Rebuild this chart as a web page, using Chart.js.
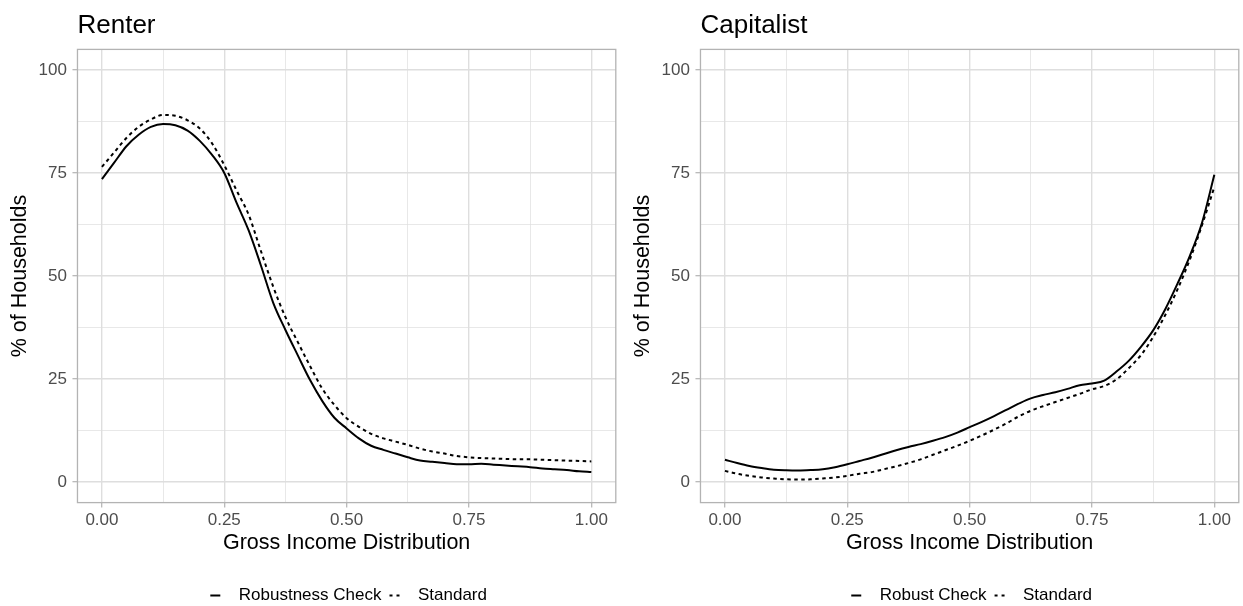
<!DOCTYPE html>
<html>
<head>
<meta charset="utf-8">
<title>Renter / Capitalist</title>
<script src="https://cdn.jsdelivr.net/npm/chart.js@4.4.1/dist/chart.umd.min.js"></script>
<style>
  html, body { margin: 0; padding: 0; background: #fff; overflow: hidden; }
  .row { display: flex; width: 1243px; height: 606px; }
  canvas { display: block; }
</style>
</head>
<body>
<div class="row">
  <canvas id="chart-renter" width="623" height="614"></canvas>
  <canvas id="chart-capitalist" width="620" height="614"></canvas>
</div>
<script>
// ---- data ----
const incomeShare = [0.000, 0.025, 0.050, 0.075, 0.100, 0.125, 0.150, 0.175, 0.200, 0.225,
  0.250, 0.275, 0.300, 0.325, 0.350, 0.375, 0.400, 0.425, 0.450, 0.475,
  0.500, 0.525, 0.550, 0.575, 0.600, 0.625, 0.650, 0.675, 0.700, 0.725,
  0.750, 0.775, 0.800, 0.825, 0.850, 0.875, 0.900, 0.925, 0.950, 0.975, 1.000];

const renterRobust = [73.5, 77.5, 81.5, 84.3, 86.2, 86.9, 86.6, 85.3, 82.8, 79.4,
  75.0, 67.8, 61.0, 52.5, 43.5, 36.9, 30.8, 24.8, 19.7, 15.6,
  13.0, 10.6, 8.8, 7.8, 6.9, 6.0, 5.2, 4.9, 4.6, 4.3,
  4.3, 4.4, 4.2, 4.0, 3.8, 3.6, 3.3, 3.1, 2.9, 2.6, 2.4];
const renterStandard = [76.5, 80.0, 83.5, 86.2, 88.0, 89.1, 88.9, 87.8, 85.8, 82.2,
  76.9, 70.8, 64.8, 56.0, 47.4, 40.0, 34.0, 28.2, 22.7, 18.7,
  15.5, 13.4, 11.7, 10.6, 9.8, 9.0, 8.1, 7.4, 6.9, 6.3,
  6.0, 5.8, 5.7, 5.6, 5.5, 5.5, 5.4, 5.3, 5.2, 5.1, 5.0];

const capitalistRobust = [5.4, 4.6, 3.9, 3.4, 3.0, 2.85, 2.8, 2.9, 3.1, 3.6,
  4.3, 5.1, 5.9, 6.8, 7.7, 8.5, 9.2, 10.0, 10.9, 12.0,
  13.3, 14.6, 16.0, 17.5, 19.0, 20.3, 21.1, 21.8, 22.6, 23.5,
  23.9, 24.6, 26.8, 29.4, 32.8, 36.8, 42.0, 48.2, 54.9, 63.0, 74.6];
const capitalistStandard = [2.7, 2.0, 1.5, 1.1, 0.85, 0.65, 0.6, 0.65, 0.85, 1.1,
  1.5, 2.0, 2.4, 3.1, 3.8, 4.6, 5.5, 6.6, 7.7, 8.8,
  10.0, 11.3, 12.7, 14.2, 15.9, 17.3, 18.4, 19.4, 20.4, 21.4,
  22.5, 23.3, 24.9, 27.6, 30.8, 35.2, 40.6, 46.8, 54.0, 62.4, 71.6];

const renterLabels = ['Robustness Check', 'Standard'];
const capitalistLabels = ['Robust Check', 'Standard'];

// grid positions: majors carry labels, the in-between ones are minor lines
const xTicks = [0, 0.125, 0.25, 0.375, 0.5, 0.625, 0.75, 0.875, 1];
const yTicks = [0, 12.5, 25, 37.5, 50, 62.5, 75, 87.5, 100];

const FONT = '"Liberation Sans", Arial, sans-serif';
const GRID = '#dedede';
const FRAME = '#b3b3b3';

const isMajorX = v => Math.abs(v * 4 - Math.round(v * 4)) < 1e-9;
const isMajorY = v => v % 25 === 0;

// little legend key: short line at the left of a wider box
function legendKey(dash) {
  const c = document.createElement('canvas');
  c.width = 24; c.height = 4;
  const g = c.getContext('2d');
  g.strokeStyle = '#000';
  g.lineWidth = 2;
  g.setLineDash(dash);
  g.beginPath();
  g.moveTo(4, 2);
  g.lineTo(14, 2);
  g.stroke();
  return c;
}

// ggplot-like panel frame on all four sides
const panelBorder = {
  id: 'panelBorder',
  afterDatasetsDraw(chart) {
    const a = chart.chartArea, ctx = chart.ctx;
    ctx.save();
    ctx.strokeStyle = FRAME;
    ctx.lineWidth = 1.3;
    ctx.strokeRect(a.left, a.top, a.right - a.left, a.bottom - a.top);
    ctx.restore();
  }
};

function renderPanel(id, title, labels, robust, standard, padRight) {
  const ctx = document.getElementById(id);
  if (!ctx) return;

  const toPoints = arr => arr.map((v, i) => ({ x: incomeShare[i], y: v }));

  new Chart(ctx, {
    type: 'line',
    data: {
      datasets: [
        {
          label: labels[0],
          data: toPoints(robust),
          borderColor: '#000',
          borderWidth: 2,
          pointRadius: 0,
          pointStyle: legendKey([]),
          cubicInterpolationMode: 'monotone',
          fill: false
        },
        {
          label: labels[1],
          data: toPoints(standard),
          borderColor: '#000',
          borderWidth: 2,
          borderDash: [3.5, 3.5],
          pointRadius: 0,
          pointStyle: legendKey([3, 4]),
          cubicInterpolationMode: 'monotone',
          fill: false
        }
      ]
    },
    options: {
      responsive: false,
      animation: false,
      events: [],
      layout: { padding: { left: 0, right: padRight, top: 0, bottom: 0 } },
      scales: {
        x: {
          type: 'linear',
          min: -0.05,
          max: 1.05,
          afterBuildTicks: s => { s.ticks = xTicks.map(v => ({ value: v })); },
          border: { display: false },
          grid: {
            color: GRID,
            lineWidth: c => isMajorX(c.tick.value) ? 1.4 : 0.7,
            tickColor: c => isMajorX(c.tick.value) ? FRAME : 'rgba(0,0,0,0)',
            tickLength: 5,
            tickWidth: 1.2
          },
          ticks: {
            autoSkip: false,
            maxRotation: 0,
            padding: 2.2,
            color: '#4d4d4d',
            font: { family: FONT, size: 17 },
            callback: v => isMajorX(v) ? v.toFixed(2) : ''
          },
          title: {
            display: true,
            text: 'Gross Income Distribution',
            color: '#000',
            font: { family: FONT, size: 21.5 },
            padding: { top: -1.8, bottom: 26.6 }
          }
        },
        y: {
          min: -5,
          max: 105,
          afterBuildTicks: s => { s.ticks = yTicks.map(v => ({ value: v })); },
          border: { display: false },
          grid: {
            color: GRID,
            lineWidth: c => isMajorY(c.tick.value) ? 1.4 : 0.7,
            tickColor: c => isMajorY(c.tick.value) ? FRAME : 'rgba(0,0,0,0)',
            tickLength: 5,
            tickWidth: 1.2
          },
          ticks: {
            autoSkip: false,
            padding: 5.5,
            color: '#4d4d4d',
            font: { family: FONT, size: 17 },
            callback: v => isMajorY(v) ? String(v) : ''
          },
          title: {
            display: true,
            text: '% of Households',
            color: '#000',
            font: { family: FONT, size: 21.5 },
            padding: { top: 7, bottom: 0.3 }
          }
        }
      },
      plugins: {
        title: {
          display: true,
          text: title,
          align: 'start',
          fullSize: false,
          color: '#000',
          font: { family: FONT, size: 26, weight: 'normal' },
          padding: { top: 10.4, bottom: 7.8 }
        },
        legend: {
          position: 'bottom',
          fullSize: false,
          labels: {
            usePointStyle: true,
            pointStyleWidth: 24,
            padding: 4,
            color: '#000',
            font: { family: FONT, size: 17 }
          }
        },
        tooltip: { enabled: false }
      }
    },
    plugins: [panelBorder]
  });
}

renderPanel('chart-renter', 'Renter', renterLabels, renterRobust, renterStandard, 7.2);
renderPanel('chart-capitalist', 'Capitalist', capitalistLabels, capitalistRobust, capitalistStandard, 4.2);
</script>
</body>
</html>
